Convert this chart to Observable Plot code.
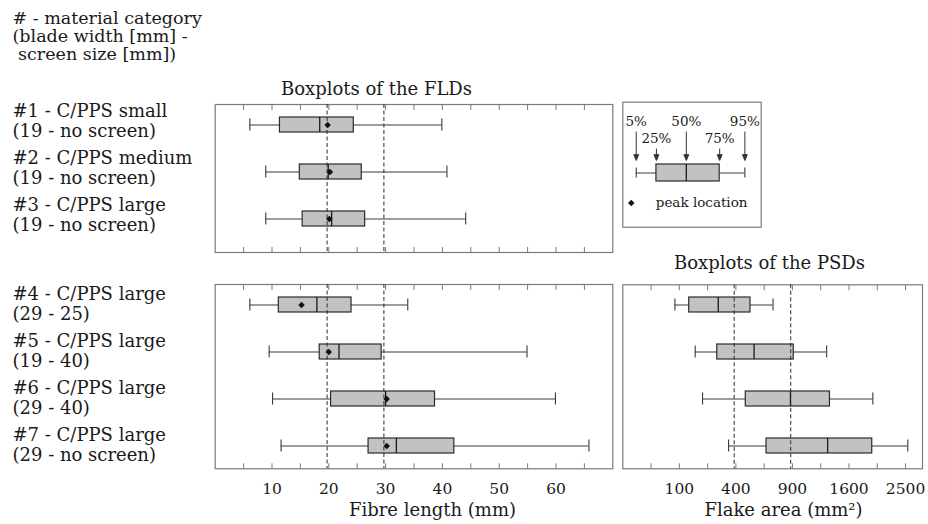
<!DOCTYPE html>
<html>
<head>
<meta charset="utf-8">
<script src="https://cdn.jsdelivr.net/npm/d3@7"></script>
<script src="https://cdn.jsdelivr.net/npm/@observablehq/plot@0.6"></script>
<style>
  html, body { margin: 0; padding: 0; background: #fff; }
  #figure { position: relative; width: 928px; height: 524px; overflow: hidden; }
  #figure > svg, #figure > figure { position: absolute; left: 0; top: 0; margin: 0; }
</style>
</head>
<body>
<div id="figure"></div>
<script>
// Material categories (rows) and their cutting settings
const categories = [
  "#1 - C/PPS small", "#2 - C/PPS medium", "#3 - C/PPS large",
  "#4 - C/PPS large", "#5 - C/PPS large", "#6 - C/PPS large", "#7 - C/PPS large"
];
const screenSettings = [
  "(19 - no screen)", "(19 - no screen)", "(19 - no screen)",
  "(29 - 25)", "(19 - 40)", "(29 - 40)", "(29 - no screen)"
];
const headerLines = ["# - material category", "(blade width [mm] -", " screen size [mm])"];

// Fibre length distributions (mm): 5/25/50/75/95 % quantiles and peak location
const fldP05 = [6.1, 8.9, 8.9, 6.1, 9.5, 10.1, 11.6];
const fldP25 = [11.4, 14.9, 15.4, 11.2, 18.4, 20.4, 27.0];
const fldP50 = [18.4, 19.9, 20.5, 17.9, 21.8, 30.0, 31.9];
const fldP75 = [24.4, 25.8, 26.4, 24.0, 29.3, 38.7, 42.1];
const fldP95 = [39.9, 40.8, 44.1, 33.9, 54.9, 59.9, 65.8];
const fldPeak = [19.8, 20.2, 20.1, 15.2, 20.0, 30.2, 30.2];

// Particle size distributions (flake area, mm²) for categories #4 - #7
const psdP05 = [85, 164, 199, 350];
const psdP25 = [138, 279, 473, 646];
const psdP50 = [285, 539, 879, 1312];
const psdP75 = [510, 914, 1342, 1946];
const psdP95 = [706, 1300, 1955, 2540];

// Reference lines: blade widths (mm) and their squares (mm²)
const bladeWidths = [19.7, 29.7];
const bladeAreas = [388, 882];

// Axis ticks
const fldTicks = [5, 10, 15, 20, 25, 30, 35, 40, 45, 50, 55, 60, 65];
const fldTickLabels = [10, 20, 30, 40, 50, 60];
const psdTicks = [25, 100, 225, 400, 625, 900, 1225, 1600, 2025, 2500];
const psdTickLabels = [100, 400, 900, 1600, 2500];

// Key: schematic quantile positions (fraction of the key width)
const keyLabels = ["5%", "25%", "50%", "75%", "95%"];
const keyPositions = [0.097, 0.243, 0.459, 0.700, 0.882];
const keyLevels = [0, 1, 0, 1, 0];
const keyPeakPosition = 0.061;

// ---------------------------------------------------------------------------
const fldRows = categories.map((id, i) => ({
  id, setting: screenSettings[i],
  p05: fldP05[i], p25: fldP25[i], p50: fldP50[i], p75: fldP75[i], p95: fldP95[i], peak: fldPeak[i]
}));
const fldTop = fldRows.slice(0, 3);
const fldBottom = fldRows.slice(3);
const psdRows = categories.slice(3).map((id, i) => ({
  id, p05: psdP05[i], p25: psdP25[i], p50: psdP50[i], p75: psdP75[i], p95: psdP95[i]
}));
const keyRows = [{id: "key", p05: keyPositions[0], p25: keyPositions[1], p50: keyPositions[2], p75: keyPositions[3], p95: keyPositions[4]}];
const keyMarks = keyLabels.map((label, i) => ({label, pos: keyPositions[i], level: keyLevels[i]}));

const W = 928, H = 524;
const serif = "'DejaVu Serif', serif";
const ink = "#1a1a1a";
const frameGray = "#7a7a7a";

// panel frames in page pixels
const fldLeft = 214.7, fldRight = 612.3;
const psdLeft = 622.3, psdRight = 922;
const topPanel = [104, 252];
const bottomPanel = [284, 468.3];
const keyBox = [622.3, 760.7, 101.7, 226.7];
const step = 47, boxHeight = 15;
const pad = 1 - boxHeight / step;

function bandY(ids, firstCenter) {
  return {
    type: "band", domain: ids, axis: null,
    range: [firstCenter - step / 2, firstCenter + step * (ids.length - 0.5)],
    paddingInner: pad, paddingOuter: pad / 2
  };
}

function style(size) {
  return {fontFamily: serif, fontSize: `${size}px`, color: ink, background: "transparent", overflow: "visible"};
}

function boxplot(rows, {refs = null, peak = true, capInset = 1.5} = {}) {
  return [
    Plot.ruleY(rows, {y: "id", x1: "p05", x2: "p95", stroke: "#3a3a3a", strokeWidth: 1.1}),
    Plot.tickX(rows, {x: "p05", y: "id", inset: capInset, stroke: "#3a3a3a", strokeWidth: 1.1}),
    Plot.tickX(rows, {x: "p95", y: "id", inset: capInset, stroke: "#3a3a3a", strokeWidth: 1.1}),
    Plot.barX(rows, {x1: "p25", x2: "p75", y: "id", fill: "#c2c2c2", stroke: "#2b2b2b", strokeWidth: 1.2}),
    Plot.tickX(rows, {x: "p50", y: "id", stroke: "#1a1a1a", strokeWidth: 1.3}),
    refs ? Plot.ruleX(refs, {stroke: "#2b2b2b", strokeDasharray: "4,2.5", strokeWidth: 1}) : null,
    peak ? Plot.dot(rows, {x: "peak", y: "id", symbol: "diamond2", r: 2.9, fill: "#111", stroke: "none"}) : null
  ];
}

function inwardTicks(ticks) {
  return [
    Plot.axisX({anchor: "top", ticks, tickSize: 5, dy: 5, fill: "none", label: null, stroke: frameGray}),
    Plot.axisX({anchor: "bottom", ticks, tickSize: 5, dy: -5, fill: "none", label: null, stroke: frameGray})
  ];
}

function rowLabels(rows, dy) {
  return Plot.text(rows, {
    y: "id", text: (d) => `${d.id}\n${d.setting}`,
    frameAnchor: "left", textAnchor: "start", dx: 12 - fldLeft, dy,
    lineHeight: 1.1, fontSize: 18, fill: ink
  });
}

const fig = document.getElementById("figure");

// Fibre length: categories #1 - #3
fig.append(Plot.plot({
  width: W, height: H,
  marginLeft: fldLeft, marginRight: W - fldRight, marginTop: topPanel[0], marginBottom: H - topPanel[1],
  style: style(16),
  x: {domain: [0, 70]},
  y: bandY(fldTop.map((d) => d.id), 124.7),
  marks: [
    Plot.frame({stroke: frameGray, strokeWidth: 1.2}),
    ...inwardTicks(fldTicks),
    ...boxplot(fldTop, {refs: bladeWidths}),
    rowLabels(fldTop, -4.5),
    Plot.text([headerLines.join("\n")], {
      frameAnchor: "top-left", textAnchor: "start", lineAnchor: "top",
      dx: 12 - fldLeft, dy: 10.6 - topPanel[0], lineHeight: 1.03, fontSize: 17.5, fill: ink
    }),
    Plot.text(["Boxplots of the FLDs"], {
      frameAnchor: "top", lineAnchor: "bottom", dx: 376 - (fldLeft + fldRight) / 2, dy: 94 - topPanel[0],
      fontSize: 18, fill: ink
    })
  ]
}));

// Fibre length: categories #4 - #7
fig.append(Plot.plot({
  width: W, height: H,
  marginLeft: fldLeft, marginRight: W - fldRight, marginTop: bottomPanel[0], marginBottom: H - bottomPanel[1],
  style: style(16),
  x: {domain: [0, 70]},
  y: bandY(fldBottom.map((d) => d.id), 304.5),
  marks: [
    Plot.frame({stroke: frameGray, strokeWidth: 1.2}),
    ...inwardTicks(fldTicks),
    Plot.axisX({anchor: "bottom", ticks: fldTickLabels, tickSize: 0, tickPadding: 13.8, label: null, tickFormat: d3.format("d"), fontSize: 15.5}),
    ...boxplot(fldBottom, {refs: bladeWidths}),
    rowLabels(fldBottom, -1.5),
    Plot.text(["Fibre length (mm)"], {
      frameAnchor: "bottom", lineAnchor: "bottom", dx: 432 - (fldLeft + fldRight) / 2, dy: 515 - bottomPanel[1],
      fontSize: 18, fill: ink
    })
  ]
}));

// Flake area: categories #4 - #7 (square-root scale)
fig.append(Plot.plot({
  width: W, height: H,
  marginLeft: psdLeft, marginRight: W - psdRight, marginTop: bottomPanel[0] + 0.3, marginBottom: H - bottomPanel[1],
  style: style(16),
  x: {type: "sqrt", domain: [0, 2809]},
  y: bandY(psdRows.map((d) => d.id), 304.3),
  marks: [
    Plot.frame({stroke: frameGray, strokeWidth: 1.2}),
    ...inwardTicks(psdTicks),
    Plot.axisX({anchor: "bottom", ticks: psdTickLabels, tickSize: 0, tickPadding: 13.8, label: null, tickFormat: d3.format("d"), fontSize: 15.5}),
    ...boxplot(psdRows, {refs: bladeAreas, peak: false}),
    Plot.text(["Boxplots of the PSDs"], {
      frameAnchor: "top", lineAnchor: "bottom", dx: 769 - (psdLeft + psdRight) / 2, dy: 268 - bottomPanel[0],
      fontSize: 18, fill: ink
    }),
    Plot.text(["Flake area (mm²)"], {
      frameAnchor: "bottom", lineAnchor: "bottom", dx: 783 - (psdLeft + psdRight) / 2, dy: 515 - bottomPanel[1],
      fontSize: 18, fill: ink
    })
  ]
}));

// Key explaining the box elements
const arrowHead = {
  draw(context, l) {
    const h = 5.5, w = 2.3;
    context.moveTo(0, 0);
    context.lineTo(0, -l + h);
    context.moveTo(-w, -l + h);
    context.lineTo(0, -l);
    context.lineTo(w, -l + h);
    context.closePath();
  }
};
const keyY = () => "key";
fig.append(Plot.plot({
  width: W, height: H,
  marginLeft: keyBox[0], marginRight: W - keyBox[1], marginTop: keyBox[2], marginBottom: H - keyBox[3],
  style: style(13.5),
  x: {domain: [0, 1], axis: null},
  y: {type: "band", domain: ["key"], range: [163.3, 181], padding: 0, axis: null},
  marks: [
    Plot.frame({stroke: frameGray, strokeWidth: 1.2}),
    ...boxplot(keyRows, {peak: false, capInset: 3.5}),
    Plot.vector(keyMarks.filter((d) => d.level === 0), {
      x: "pos", y: keyY, rotate: 180, anchor: "end", length: 28.5, dy: -12.5,
      shape: arrowHead, stroke: "#333", fill: "#333", strokeWidth: 1
    }),
    Plot.vector(keyMarks.filter((d) => d.level === 1), {
      x: "pos", y: keyY, rotate: 180, anchor: "end", length: 11.5, dy: -12.5,
      shape: arrowHead, stroke: "#333", fill: "#333", strokeWidth: 1
    }),
    Plot.text(keyMarks.filter((d) => d.level === 0), {
      x: "pos", y: keyY, text: "label", lineAnchor: "bottom", dy: 125 - 172.2, fontSize: 13.5, fill: ink
    }),
    Plot.text(keyMarks.filter((d) => d.level === 1), {
      x: "pos", y: keyY, text: "label", lineAnchor: "bottom", dy: 141.7 - 172.2, fontSize: 13.5, fill: ink
    }),
    Plot.dot([keyPeakPosition], {x: (d) => d, y: keyY, dy: 30, symbol: "diamond2", r: 2.9, fill: "#111", stroke: "none"}),
    Plot.text([keyPeakPosition], {
      x: (d) => d, y: keyY, text: () => "peak location", textAnchor: "start", lineAnchor: "bottom",
      dx: 24.5, dy: 206.5 - 172.2, fontSize: 13.5, fill: ink
    })
  ]
}));
</script>
</body>
</html>
